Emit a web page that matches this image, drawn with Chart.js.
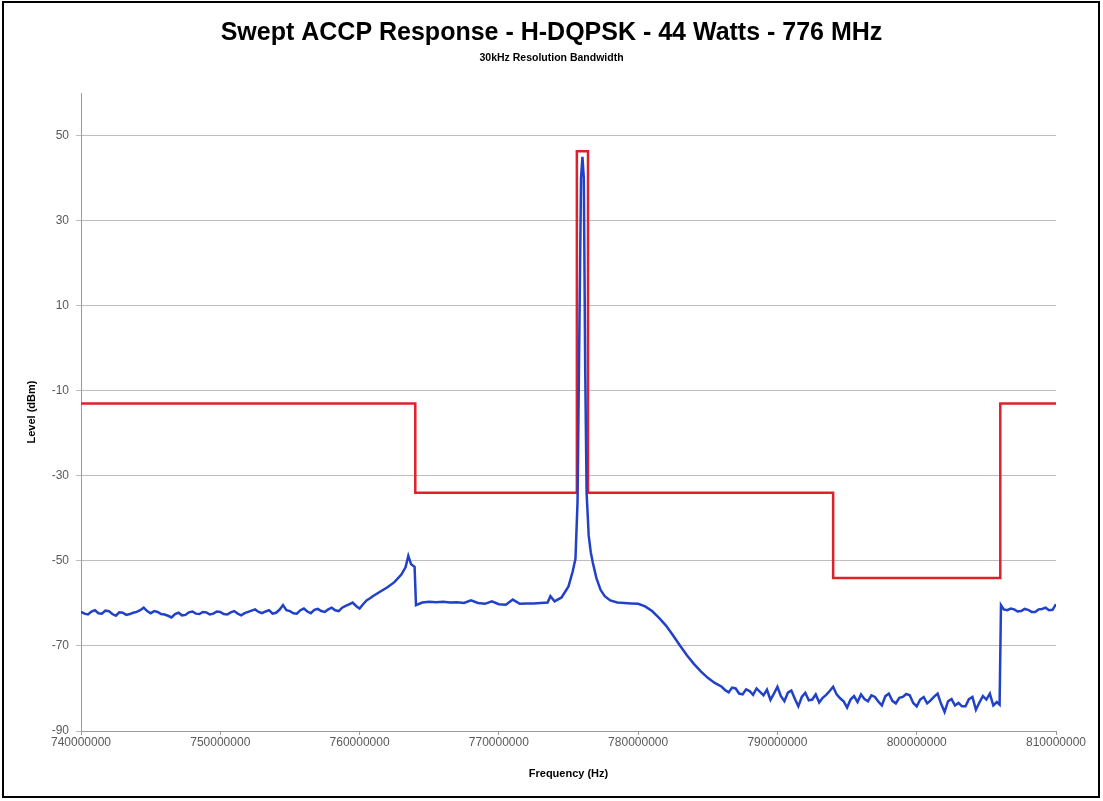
<!DOCTYPE html>
<html>
<head>
<meta charset="utf-8">
<title>Swept ACCP Response</title>
<script src="https://cdn.jsdelivr.net/npm/chart.js@4.4.1/dist/chart.umd.min.js"></script>
<style>
    body { margin: 0; background: #fff; }
    #wrap { position: relative; width: 1103px; height: 801px; }
    #frame {
        position: absolute; left: 2px; top: 1px; width: 1098px; height: 797px;
        border: 2px solid #000; box-sizing: border-box; pointer-events: none;
    }
</style>
</head>
<body>
<div id="wrap">
    <canvas id="acpChart" width="1103" height="801"></canvas>
    <div id="frame"></div>
</div>
<script>
// Limit mask (red), frequency in MHz / level in dBm
const maskFreqMHz = [740, 764, 764, 775.6, 775.6, 776.4, 776.4, 794, 794, 806, 806, 810];
const maskLevel   = [-13, -13, -34, -34, 46.3, 46.3, -34, -34, -54, -54, -13, -13];

// Measured sweep (blue)
const traceFreqMHz = [
    740, 740.25, 740.5, 740.75, 741, 741.25, 741.5, 741.75, 742, 742.25,
    742.5, 742.75, 743, 743.25, 743.5, 743.75, 744, 744.25, 744.5, 744.75,
    745, 745.25, 745.5, 745.75, 746, 746.25, 746.5, 746.75, 747, 747.25,
    747.5, 747.75, 748, 748.25, 748.5, 748.75, 749, 749.25, 749.5, 749.75,
    750, 750.25, 750.5, 750.75, 751, 751.25, 751.5, 751.75, 752, 752.25,
    752.5, 752.75, 753, 753.25, 753.5, 753.75, 754, 754.25, 754.5, 754.75,
    755, 755.25, 755.5, 755.75, 756, 756.25, 756.5, 756.75, 757, 757.25,
    757.5, 757.75, 758, 758.25, 758.5, 758.75, 759, 759.25, 759.5, 759.75,
    760, 760.25, 760.5, 760.75, 761, 761.5, 762, 762.5, 763, 763.3,
    763.5, 763.7, 763.95, 764.05, 764.5, 765, 765.5, 766, 766.5, 767,
    767.5, 768, 768.5, 769, 769.5, 770, 770.5, 771, 771.5, 772,
    772.5, 773, 773.5, 773.7, 774, 774.5, 775, 775.3, 775.5, 775.65,
    775.75, 775.9, 776, 776.1, 776.2, 776.3, 776.45, 776.6, 776.75, 777,
    777.3, 777.6, 778, 778.5, 779, 779.5, 780, 780.5, 781, 781.5,
    782, 782.5, 783, 783.5, 784, 784.5, 785, 785.5, 786, 786.25,
    786.5, 786.75, 787, 787.25, 787.5, 787.75, 788, 788.25, 788.5, 788.75,
    789, 789.25, 789.5, 789.75, 790, 790.25, 790.5, 790.75, 791, 791.25,
    791.5, 791.75, 792, 792.25, 792.5, 792.75, 793, 793.25, 793.5, 793.75,
    794, 794.25, 794.5, 794.75, 795, 795.25, 795.5, 795.75, 796, 796.25,
    796.5, 796.75, 797, 797.25, 797.5, 797.75, 798, 798.25, 798.5, 798.75,
    799, 799.25, 799.5, 799.75, 800, 800.25, 800.5, 800.75, 801, 801.25,
    801.5, 801.75, 802, 802.25, 802.5, 802.75, 803, 803.25, 803.5, 803.75,
    804, 804.25, 804.5, 804.75, 805, 805.25, 805.5, 805.75, 805.95, 806.05,
    806.25, 806.5, 806.75, 807, 807.25, 807.5, 807.75, 808, 808.25, 808.5,
    808.75, 809, 809.25, 809.5, 809.75, 810
];
const traceLevel = [
    -62.0, -62.4, -62.6, -61.9, -61.6, -62.3, -62.4, -61.7, -61.8, -62.5,
    -62.9, -62.1, -62.2, -62.7, -62.5, -62.2, -62.0, -61.6, -61.0, -61.8,
    -62.3, -61.8, -62.0, -62.5, -62.6, -62.9, -63.3, -62.5, -62.2, -62.8,
    -62.7, -62.1, -61.9, -62.4, -62.5, -62.0, -62.1, -62.6, -62.4, -61.9,
    -62.0, -62.5, -62.6, -62.1, -61.8, -62.4, -62.8, -62.3, -62.0, -61.7,
    -61.4, -62.0, -62.3, -61.9, -61.6, -62.4, -62.2, -61.5, -60.4, -61.6,
    -61.8, -62.3, -62.4, -61.6, -61.2, -61.9, -62.3, -61.5, -61.3, -61.8,
    -62.0, -61.4, -61.0, -61.6, -61.8, -61.0, -60.6, -60.2, -59.8, -60.6,
    -61.2, -60.2, -59.3, -58.8, -58.2, -57.2, -56.2, -55.0, -53.2, -51.5,
    -48.8, -50.8, -51.4, -60.4, -59.8, -59.6, -59.7, -59.6, -59.8, -59.7,
    -59.9, -59.3, -59.9, -60.1, -59.5, -60.2, -60.3, -59.1, -60.1, -60.0,
    -60.0, -59.9, -59.8, -58.3, -59.5, -58.6, -56.0, -52.5, -49.5, -36.0,
    -5.0, 40.0, 45.0, 40.0, -5.0, -34.0, -44.0, -48.0, -50.5, -54.0,
    -56.8, -58.3, -59.3, -59.8, -59.9, -60.0, -60.1, -60.7, -61.8, -63.4,
    -65.2, -67.5, -69.9, -72.2, -74.2, -76.0, -77.5, -78.7, -79.6, -80.4,
    -80.9, -79.8, -80.0, -81.2, -81.4, -80.2, -80.6, -81.5, -80.0, -80.8,
    -81.6, -80.3, -82.7, -81.2, -79.6, -81.8, -83.0, -81.0, -80.5, -82.4,
    -84.2, -82.0, -81.0, -82.8, -82.6, -81.4, -83.3, -82.2, -81.5, -80.6,
    -79.6, -81.4, -82.3, -83.0, -84.5, -82.6, -81.8, -83.2, -81.4, -82.5,
    -83.0, -81.6, -82.0, -83.1, -84.0, -81.8, -81.2, -82.9, -83.5, -82.2,
    -82.0, -81.3, -81.6, -83.4, -84.2, -82.6, -82.0, -83.5, -82.8, -81.9,
    -81.2, -83.6, -85.5, -83.0, -82.5, -84.0, -83.4, -84.2, -84.2, -82.5,
    -82.0, -85.0, -83.3, -81.8, -82.6, -81.2, -84.0, -83.2, -83.8, -60.4,
    -61.4, -61.6, -61.2, -61.4, -61.9, -61.8, -61.3, -61.5, -62.0, -62.0,
    -61.4, -61.3, -61.0, -61.6, -61.5, -60.2
];

// Axis ticks
const levelTicks = [-90, -70, -50, -30, -10, 10, 30, 50];
const freqTicksHz = [740000000, 750000000, 760000000, 770000000, 780000000, 790000000, 800000000, 810000000];

const toPoints = (freqs, levels) => freqs.map((f, i) => ({ x: Math.round(f * 1e6), y: levels[i] }));

const fontFamily = "'Liberation Sans', Arial, sans-serif";
const labelFont = { family: fontFamily, size: 12 };
const axisTitleFont = { family: fontFamily, size: 11, weight: 'bold' };

new Chart(document.getElementById('acpChart'), {
    type: 'line',
    data: {
        datasets: [
            {
                label: 'Measured',
                data: toPoints(traceFreqMHz, traceLevel),
                borderColor: '#2142c8',
                borderWidth: 2.5,
                pointRadius: 0,
                tension: 0
            },
            {
                label: 'Mask',
                data: toPoints(maskFreqMHz, maskLevel),
                borderColor: '#e0202a',
                borderWidth: 2.5,
                pointRadius: 0,
                tension: 0
            }
        ]
    },
    options: {
        responsive: false,
        animation: false,
        layout: { padding: { left: 0, right: 0, top: 0, bottom: 16 } },
        plugins: {
            legend: { display: false },
            tooltip: { enabled: false },
            title: {
                display: true,
                text: 'Swept ACCP Response - H-DQPSK - 44 Watts - 776 MHz',
                color: '#000',
                font: { family: fontFamily, size: 25, weight: 'bold' },
                padding: { top: 18, bottom: 4 }
            },
            subtitle: {
                display: true,
                text: '30kHz Resolution Bandwidth',
                color: '#000',
                font: { family: fontFamily, size: 10.5, weight: 'bold' },
                padding: { top: 0, bottom: 28.5 }
            }
        },
        scales: {
            x: {
                type: 'linear',
                min: 740000000,
                max: 810000000,
                afterBuildTicks: scale => { scale.ticks = freqTicksHz.map(v => ({ value: v })); },
                afterFit: scale => {
                    scale.height = 54;
                    // keep the plot's right edge where the original has it
                    scale.paddingLeft = 0;
                    scale.paddingRight = 47;
                },
                grid: { display: true, drawOnChartArea: false, color: '#9a9a9a', tickLength: 4 },
                border: { color: '#9a9a9a' },
                ticks: {
                    color: '#595959',
                    font: labelFont,
                    maxRotation: 0,
                    padding: 0,
                    callback: v => String(v)
                },
                title: { display: true, text: 'Frequency (Hz)', color: '#000', font: axisTitleFont, padding: { top: 4, bottom: 4 } }
            },
            y: {
                min: -90,
                max: 60,
                afterBuildTicks: scale => { scale.ticks = levelTicks.map(v => ({ value: v })); },
                afterFit: scale => { scale.width = 81; },
                grid: { color: '#bdbdbd', tickLength: 5 },
                border: { color: '#9a9a9a' },
                ticks: { color: '#595959', font: labelFont, padding: 7 },
                title: { display: true, text: 'Level (dBm)', color: '#000', font: axisTitleFont, padding: { top: 25, bottom: 4 } }
            }
        }
    }
});
</script>
</body>
</html>
